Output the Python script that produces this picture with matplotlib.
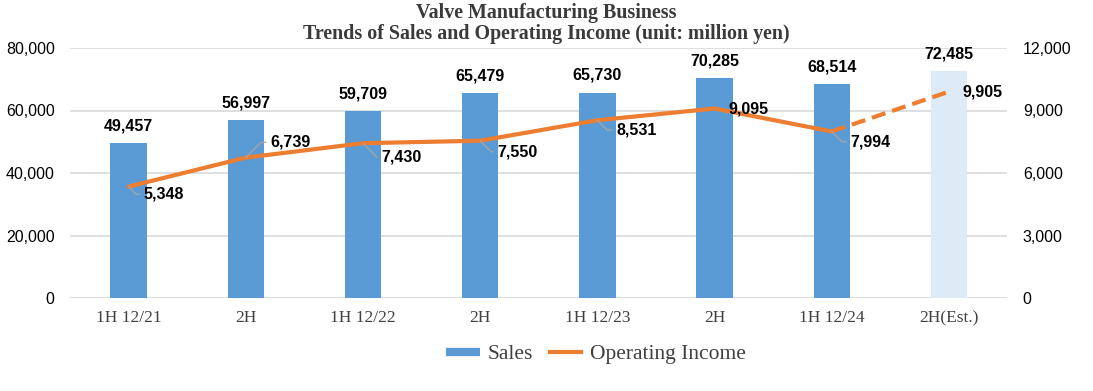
import matplotlib
matplotlib.use("Agg")
import matplotlib.pyplot as plt
from matplotlib.lines import Line2D
from matplotlib.ticker import FuncFormatter

categories = ["1H 12/21", "2H", "1H 12/22", "2H", "1H 12/23", "2H", "1H 12/24", "2H(Est.)"]
sales = [49457, 56997, 59709, 65479, 65730, 70285, 68514, 72485]
op_income = [5348, 6739, 7430, 7550, 8531, 9095, 7994, 9905]
estimate = [False, False, False, False, False, False, False, True]
# label offsets for operating income labels (points): (dx, dy, leader)
op_offsets = [(11, -5.5, True), (17.5, 11, True), (13, -10, True), (12.5, -8, True),
              (13.5, -7, True), (10, 0, False), (13.5, -7.5, True), (10, 0, False)]

SANS = "Liberation Sans"
SERIF = "Liberation Serif"
BAR = "#5B9BD5"
BAR_EST = "#DEEAF6"
LINE = "#ED7D31"
GRID = "#D9D9D9"

fig = plt.figure(figsize=(10.93, 3.91), dpi=100)
ax = fig.add_axes([70/1093, 1-298/391, (1007.5-70)/1093, 250/391])
ax2 = ax.twinx()

x = list(range(len(categories)))
colors = [BAR_EST if e else BAR for e in estimate]
ax.bar(x, sales, width=0.31, color=colors, zorder=2)
ax.set_xlim(-0.5, len(categories) - 0.5)
ax.set_ylim(0, 80000)
ax.set_yticks(range(0, 80001, 20000))
ax.yaxis.set_major_formatter(FuncFormatter(lambda v, p: f"{int(v):,}"))
ax.grid(axis="y", color=GRID, linewidth=1.2, zorder=0)
ax.set_axisbelow(True)
for s in ax.spines.values():
    s.set_visible(False)
for s in ax2.spines.values():
    s.set_visible(False)
ax.tick_params(axis="y", length=0, pad=11, labelsize=11.5, labelcolor="#000000")
for t in ax.get_yticklabels():
    t.set_fontfamily(SANS)
ax.set_xticks(x)
ax.set_xticklabels(categories, fontfamily=SERIF, fontsize=12.5, color="#404040")
ax.tick_params(axis="x", length=0, pad=9)

ax2.set_ylim(0, 12000)
ax2.set_yticks(range(0, 12001, 3000))
ax2.yaxis.set_major_formatter(FuncFormatter(lambda v, p: f"{int(v):,}"))
ax2.tick_params(axis="y", length=0, pad=11, labelsize=11.5, labelcolor="#000000")
for t in ax2.get_yticklabels():
    t.set_fontfamily(SANS)

# line: solid for actuals, dashed to estimate
n_act = sum(1 for e in estimate if not e)
ax2.plot(x[:n_act], op_income[:n_act], color=LINE, linewidth=3, solid_capstyle="round", zorder=3)
ax2.plot(x[n_act-1:], op_income[n_act-1:], color=LINE, linewidth=3, linestyle=(0, (3.4, 1.7)), zorder=3)

for i, v in enumerate(sales):
    ax.annotate(f"{v:,}", (i, v), xytext=(0, 12.5), textcoords="offset points",
                ha="center", va="center", fontsize=11.5, fontweight="bold",
                fontfamily=SANS, color="#000000", zorder=5)

for i, v in enumerate(op_income):
    dx, dy, leader = op_offsets[i]
    kw = {}
    if leader:
        kw["arrowprops"] = dict(arrowstyle="-", color="#A6A6A6", linewidth=0.9,
                                shrinkA=1, shrinkB=0, relpos=(0, 0.5),
                                connectionstyle="angle,angleA=0,angleB=%d,rad=0" % (45 if dy > 0 else -45))
    ax2.annotate(f"{v:,}", (i, v), xytext=(dx, dy), textcoords="offset points",
                 ha="left", va="center", fontsize=11.5, fontweight="bold",
                 fontfamily=SANS, color="#000000", zorder=6, **kw)

fig.text(0.5, 1-13/391, "Valve Manufacturing Business", ha="center", va="center",
         fontfamily=SERIF, fontweight="bold", fontsize=14.4, color="#3A3A3A")
fig.text(0.5, 1-34/391, "Trends of Sales and Operating Income (unit: million yen)", ha="center", va="center",
         fontfamily=SERIF, fontweight="bold", fontsize=14.4, color="#3A3A3A")

handles = [Line2D([], [], color=BAR, linewidth=6, solid_capstyle="butt"),
           Line2D([], [], color=LINE, linewidth=3, solid_capstyle="butt")]
fig.legend(handles, ["Sales", "Operating Income"], loc="center", bbox_to_anchor=(596/1093, 1-354/391),
           ncol=2, frameon=False, prop={"family": SERIF, "size": 15.5}, handlelength=1.6,
           handletextpad=0.35, columnspacing=0.7, labelcolor="#404040")

fig.savefig("out.png", dpi=100)
